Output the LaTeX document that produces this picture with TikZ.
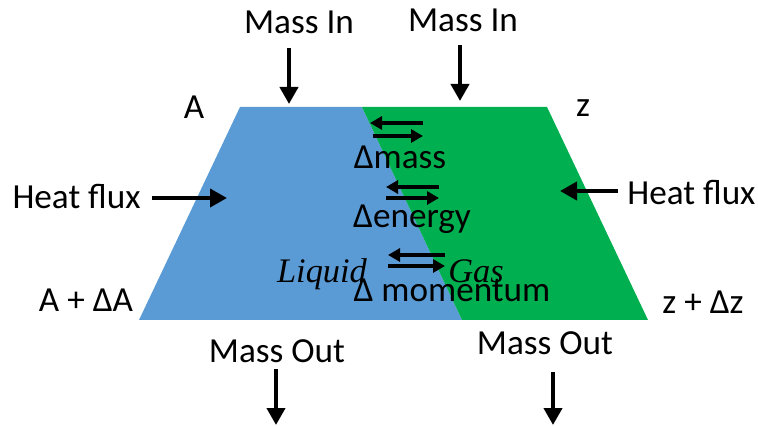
\documentclass[tikz,border=0pt]{standalone}
\usepackage{fontspec}
\setmainfont{Carlito}
\newfontfamily\seritfont{Liberation Serif}
\usetikzlibrary{arrows.meta}
\definecolor{liqblue}{HTML}{5B9BD5}
\definecolor{gasgreen}{HTML}{00B050}
\tikzset{
  lbl/.style={inner sep=0pt, font=\fontsize{17.6}{19}\selectfont},
  bigarrow/.style={line width=2pt, -{Triangle[length=8.5pt,width=9pt]}},
  midarrow/.style={line width=1.6pt, -{Triangle[length=6pt,width=6.5pt]}},
  phase/.style={inner sep=0pt, font=\seritfont\itshape\fontsize{17.2}{19}\selectfont, anchor=base}
}
\begin{document}
\begin{tikzpicture}[x=0.5pt,y=-0.5pt]
\useasboundingbox (0,0) rectangle (758,426);
% regions
\fill[liqblue] (240,107) -- (362,107) -- (462,320) -- (139,320) -- cycle;
\fill[gasgreen] (362,107) -- (547,107) -- (648,320) -- (462,320) -- cycle;
% top labels
\node[lbl] (min1) at (299,22) {Mass In};
\node[lbl] (min2) at (463,20) {Mass In};
\coordinate (min1a) at (289,48); \coordinate (min1b) at (289,104);
\coordinate (min2a) at (460,45); \coordinate (min2b) at (460,101);
\draw[bigarrow] (min1a) -- (min1b);
\draw[bigarrow] (min2a) -- (min2b);
\node[lbl] (A) at (194,107) {A};
\node[lbl] (z) at (583,108) {z};
% heat flux
\node[lbl,anchor=east] (hfl) at (141,197) {Heat flux};
\node[lbl,anchor=west] (hfr) at (627,193) {Heat flux};
\coordinate (hfla) at (152,198); \coordinate (hflb) at (227,198);
\coordinate (hfra) at (618,191); \coordinate (hfrb) at (560,191);
\draw[bigarrow] (hfla) -- (hflb);
\draw[bigarrow] (hfra) -- (hfrb);
% bottom corners
\node[lbl] (AdA) at (86,300) {A + ΔA};
\node[lbl] (zdz) at (703,302) {z + Δz};
% exchange arrows
\coordinate (m1a) at (423,123); \coordinate (m1b) at (370,123);
\coordinate (m2a) at (373,136); \coordinate (m2b) at (423,136);
\draw[midarrow] (m1a) -- (m1b);
\draw[midarrow] (m2a) -- (m2b);
\node[lbl] (dmass) at (400,157) {Δmass};
\coordinate (e1a) at (439,187); \coordinate (e1b) at (386,187);
\coordinate (e2a) at (386,198); \coordinate (e2b) at (439,198);
\draw[midarrow] (e1a) -- (e1b);
\draw[midarrow] (e2a) -- (e2b);
\node[lbl] (denergy) at (412,219) {Δenergy};
\coordinate (p1a) at (445,255); \coordinate (p1b) at (388,255);
\coordinate (p2a) at (388,266); \coordinate (p2b) at (445,266);
\draw[midarrow] (p1a) -- (p1b);
\draw[midarrow] (p2a) -- (p2b);
\node[phase] (liq) at (322,283) {Liquid};
\node[phase] (gas) at (476,283) {Gas};
\node[lbl] (dmom) at (452,290) {Δ momentum};
% mass out
\node[lbl] (mo1) at (277,351) {Mass Out};
\node[lbl] (mo2) at (545,343) {Mass Out};
\coordinate (mo1a) at (276,369); \coordinate (mo1b) at (276,425);
\coordinate (mo2a) at (553,372); \coordinate (mo2b) at (553,425);
\draw[bigarrow] (mo1a) -- (mo1b);
\draw[bigarrow] (mo2a) -- (mo2b);
\end{tikzpicture}
\end{document}
